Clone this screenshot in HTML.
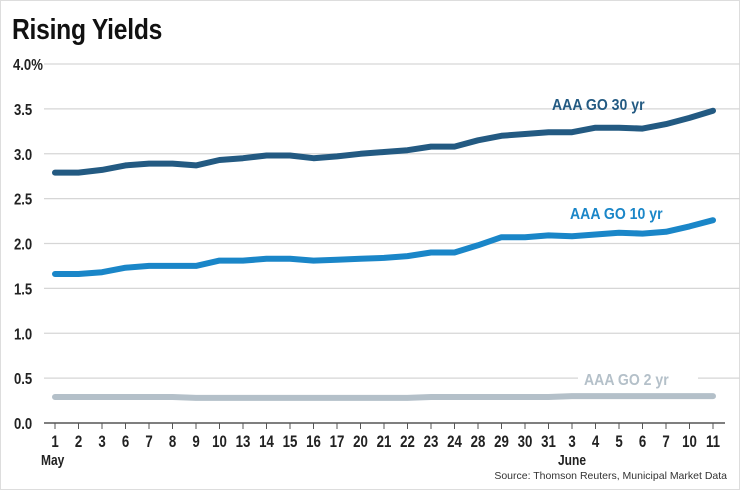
<!DOCTYPE html>
<html><head><meta charset="utf-8"><style>
body{margin:0;background:#fff;}
svg{display:block;font-family:"Liberation Sans",Arial,sans-serif;}
</style></head><body>
<svg id="c" width="740" height="490" viewBox="0 0 740 490"></svg>
<script>
const s=document.getElementById('c');
const T=(x,y,sz,txt,fill,anchor,sx,extra)=>`<text transform="translate(${x},${y}) scale(${sx},1)" font-size="${sz}" font-weight="bold" fill="${fill}" text-anchor="${anchor}" ${extra||''}>${txt}</text>`;
let h='<rect x="0.5" y="0.5" width="739" height="489" fill="#fff" stroke="#ddd"/>';
h+=T(12,39,29,'Rising Yields','#111','start',0.85,'letter-spacing="-0.3"');
const Y=v=>423-v*89.75;
const labs=['0.0','0.5','1.0','1.5','2.0','2.5','3.0','3.5','4.0%'];
labs.forEach((l,i)=>{const y=Y(i*0.5);
 if(i>0)h+=`<line x1="44" x2="740" y1="${y}" y2="${y}" stroke="#d6d6d6" stroke-width="1.2"/>`;
 h+=T(i==8?13:14,y+6,16,l,'#222','start',0.82);});
const xl=[1,2,3,6,7,8,9,10,13,14,15,16,17,20,21,22,23,24,28,29,30,31,3,4,5,6,7,10,11];
const X=i=>55+i*(658/28);
h+=`<line x1="44" x2="725" y1="423" y2="423" stroke="#555" stroke-width="1.5"/>`;
xl.forEach((d,i)=>{const x=X(i);h+=`<line x1="${x}" x2="${x}" y1="423" y2="429" stroke="#555"/>`;
 h+=T(x,447,17,d,'#222','middle',0.78);});
h+=T(41,465,15,'May','#222','start',0.8);
h+=T(X(22)-14,465,15,'June','#222','start',0.8);
h+=`<text x="727" y="479" font-size="10.5" text-anchor="end" fill="#333">Source: Thomson Reuters, Municipal Market Data</text>`;
const a30=[2.79,2.79,2.82,2.87,2.89,2.89,2.87,2.93,2.95,2.98,2.98,2.95,2.97,3.00,3.02,3.04,3.08,3.08,3.15,3.20,3.22,3.24,3.24,3.29,3.29,3.28,3.33,3.40,3.48];
const a10=[1.66,1.66,1.68,1.73,1.75,1.75,1.75,1.81,1.81,1.83,1.83,1.81,1.82,1.83,1.84,1.86,1.90,1.90,1.98,2.07,2.07,2.09,2.08,2.10,2.12,2.11,2.13,2.19,2.26];
const a2=[0.29,0.29,0.29,0.29,0.29,0.29,0.28,0.28,0.28,0.28,0.28,0.28,0.28,0.28,0.28,0.28,0.29,0.29,0.29,0.29,0.29,0.29,0.30,0.30,0.30,0.30,0.30,0.30,0.30];
const pl=(a,c)=>`<polyline fill="none" stroke="${c}" stroke-width="6" stroke-linejoin="round" stroke-linecap="round" points="${a.map((v,i)=>X(i).toFixed(1)+','+Y(v).toFixed(1)).join(' ')}"/>`;
h+=`<rect x="578" y="${Y(0.5)-10}" width="120" height="20" fill="#fff"/>`;
h+=pl(a2,'#b4c0c9')+pl(a10,'#1a86c8')+pl(a30,'#235a82');
h+=T(552,110,16,'AAA GO 30 yr','#235a82','start',0.88);
h+=T(570,219,16,'AAA GO 10 yr','#1a86c8','start',0.88);
h+=T(584,385,16,'AAA GO 2 yr','#b4c0c9','start',0.88);
s.innerHTML=h;
</script>
</body></html>
